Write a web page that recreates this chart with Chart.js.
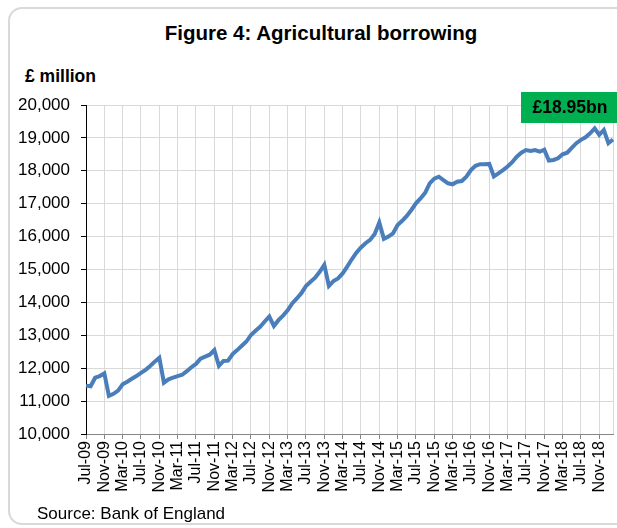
<!DOCTYPE html>
<html>
<head>
<meta charset="utf-8">
<script src="https://cdn.jsdelivr.net/npm/chart.js@4"></script>
<style>
  html, body { margin: 0; padding: 0; background: #fff; }
  body { width: 617px; height: 528px; position: relative; overflow: hidden; font-family: "Liberation Sans", Arial, sans-serif; }
  .frame {
    position: absolute; left: 8px; top: 7px; width: 660px; height: 518px;
    border: 2px solid #d9d9d9; border-radius: 14px; box-sizing: border-box;
  }
  .title {
    position: absolute; left: 0; width: 642px; top: 21px; text-align: center;
    font-weight: bold; font-size: 20.5px; color: #000;
  }
  .unit { position: absolute; left: 25px; top: 66px; font-weight: bold; font-size: 17.5px; color: #000; }
  .source { position: absolute; left: 37px; top: 504px; font-size: 17px; color: #000; }
  #chart { position: absolute; left: 0; top: 0; }
</style>
</head>
<body>
<div class="frame"></div>
<div class="title">Figure 4: Agricultural borrowing</div>
<div class="unit">£ million</div>
<canvas id="chart" width="617" height="528"></canvas>
<div class="source">Source: Bank of England</div>

<script>
// Monthly series, Jul-09 to Feb-19
const monthNames = ['Jan', 'Feb', 'Mar', 'Apr', 'May', 'Jun', 'Jul', 'Aug', 'Sep', 'Oct', 'Nov', 'Dec']
const startYear = 2009
const startMonth = 6 // Jul

const borrowing = [
  11470, 11450, 11710, 11760, 11840, 11160, // Jul-09 .. Dec-09
  11220, 11320, 11510, 11590, 11680, 11760, 11860, 11950, 12070, 12200, 12320, 11560, // 2010
  11660, 11710, 11760, 11800, 11910, 12030, 12130, 12290, 12350, 12410, 12550, 12070, // 2011
  12220, 12230, 12430, 12550, 12680, 12810, 13010, 13140, 13260, 13420, 13570, 13280, // 2012
  13460, 13600, 13760, 13970, 14120, 14280, 14500, 14630, 14750, 14930, 15140, 14500, // 2013
  14650, 14730, 14880, 15090, 15310, 15510, 15670, 15800, 15900, 16080, 16430, 15930, // 2014
  16000, 16100, 16350, 16480, 16630, 16810, 17010, 17160, 17330, 17620, 17760, 17820, // 2015
  17720, 17620, 17590, 17670, 17690, 17820, 18020, 18150, 18200, 18200, 18210, 17830, // 2016
  17920, 18020, 18130, 18260, 18430, 18550, 18630, 18600, 18630, 18580, 18640, 18310, // 2017
  18330, 18380, 18500, 18550, 18700, 18840, 18940, 19020, 19140, 19290, 19090, 19240, // 2018
  18840, 18950 // Jan-19, Feb-19
]

const labels = borrowing.map((_, i) => {
  const m = startMonth + i
  const yy = String((startYear + Math.floor(m / 12)) % 100).padStart(2, '0')
  return `${monthNames[m % 12]}-${yy}`
})

const labelEvery = 4
const yMin = 10000
const yMax = 20000
const yStep = 1000

// Green call-out with latest value
const calloutPlugin = {
  id: 'callout',
  afterDraw(chart) {
    const { ctx, chartArea } = chart
    const last = borrowing[borrowing.length - 1]
    const text = `£${(last / 1000).toFixed(2)}bn`
    const left = chartArea.right - 92
    const top = chartArea.top - 13
    ctx.save()
    ctx.fillStyle = '#00b050'
    ctx.fillRect(left, top, 110, 31)
    ctx.fillStyle = '#000'
    ctx.font = 'bold 17.5px "Liberation Sans", Arial, sans-serif'
    ctx.textAlign = 'center'
    ctx.textBaseline = 'middle'
    ctx.fillText(text, left + 49, top + 16)
    ctx.restore()
  }
}

const gridOn = (i) => i % labelEvery === 0 || i === borrowing.length - 1

new Chart(document.getElementById('chart'), {
  type: 'line',
  data: {
    labels: labels,
    datasets: [{
      data: borrowing,
      borderColor: '#4a7ebb',
      borderWidth: 4,
      pointRadius: 0,
      tension: 0,
      fill: false
    }]
  },
  options: {
    responsive: false,
    animation: false,
    layout: { padding: { left: 0, top: 105, right: 4, bottom: 34 } },
    plugins: {
      legend: { display: false },
      tooltip: { enabled: false }
    },
    scales: {
      x: {
        offset: false,
        afterFit: (scale) => {
          scale.height = 60
          scale.paddingLeft = 0
          scale.paddingRight = 0
        },
        grid: {
          color: (c) => gridOn(c.index) ? '#d9d9d9' : 'rgba(0,0,0,0)',
          tickColor: (c) => c.index % labelEvery === 0 ? '#868686' : 'rgba(0,0,0,0)',
          tickLength: 5,
          lineWidth: 1
        },
        border: { color: '#868686', width: 1 },
        ticks: {
          autoSkip: false,
          maxRotation: 90,
          minRotation: 90,
          padding: 2,
          color: '#000',
          font: { family: '"Liberation Sans", Arial, sans-serif', size: 16 },
          callback: (v, i) => i % labelEvery === 0 ? labels[i] : ''
        }
      },
      y: {
        min: yMin,
        max: yMax,
        afterFit: (scale) => { scale.width = 86 },
        grid: { color: '#d9d9d9', tickColor: '#000', tickLength: 5 },
        border: { color: '#000', width: 1 },
        ticks: {
          stepSize: yStep,
          padding: 11,
          color: '#000',
          font: { family: '"Liberation Sans", Arial, sans-serif', size: 17 },
          callback: (v) => v.toLocaleString('en-GB')
        }
      }
    }
  },
  plugins: [calloutPlugin]
})
</script>
</body>
</html>
